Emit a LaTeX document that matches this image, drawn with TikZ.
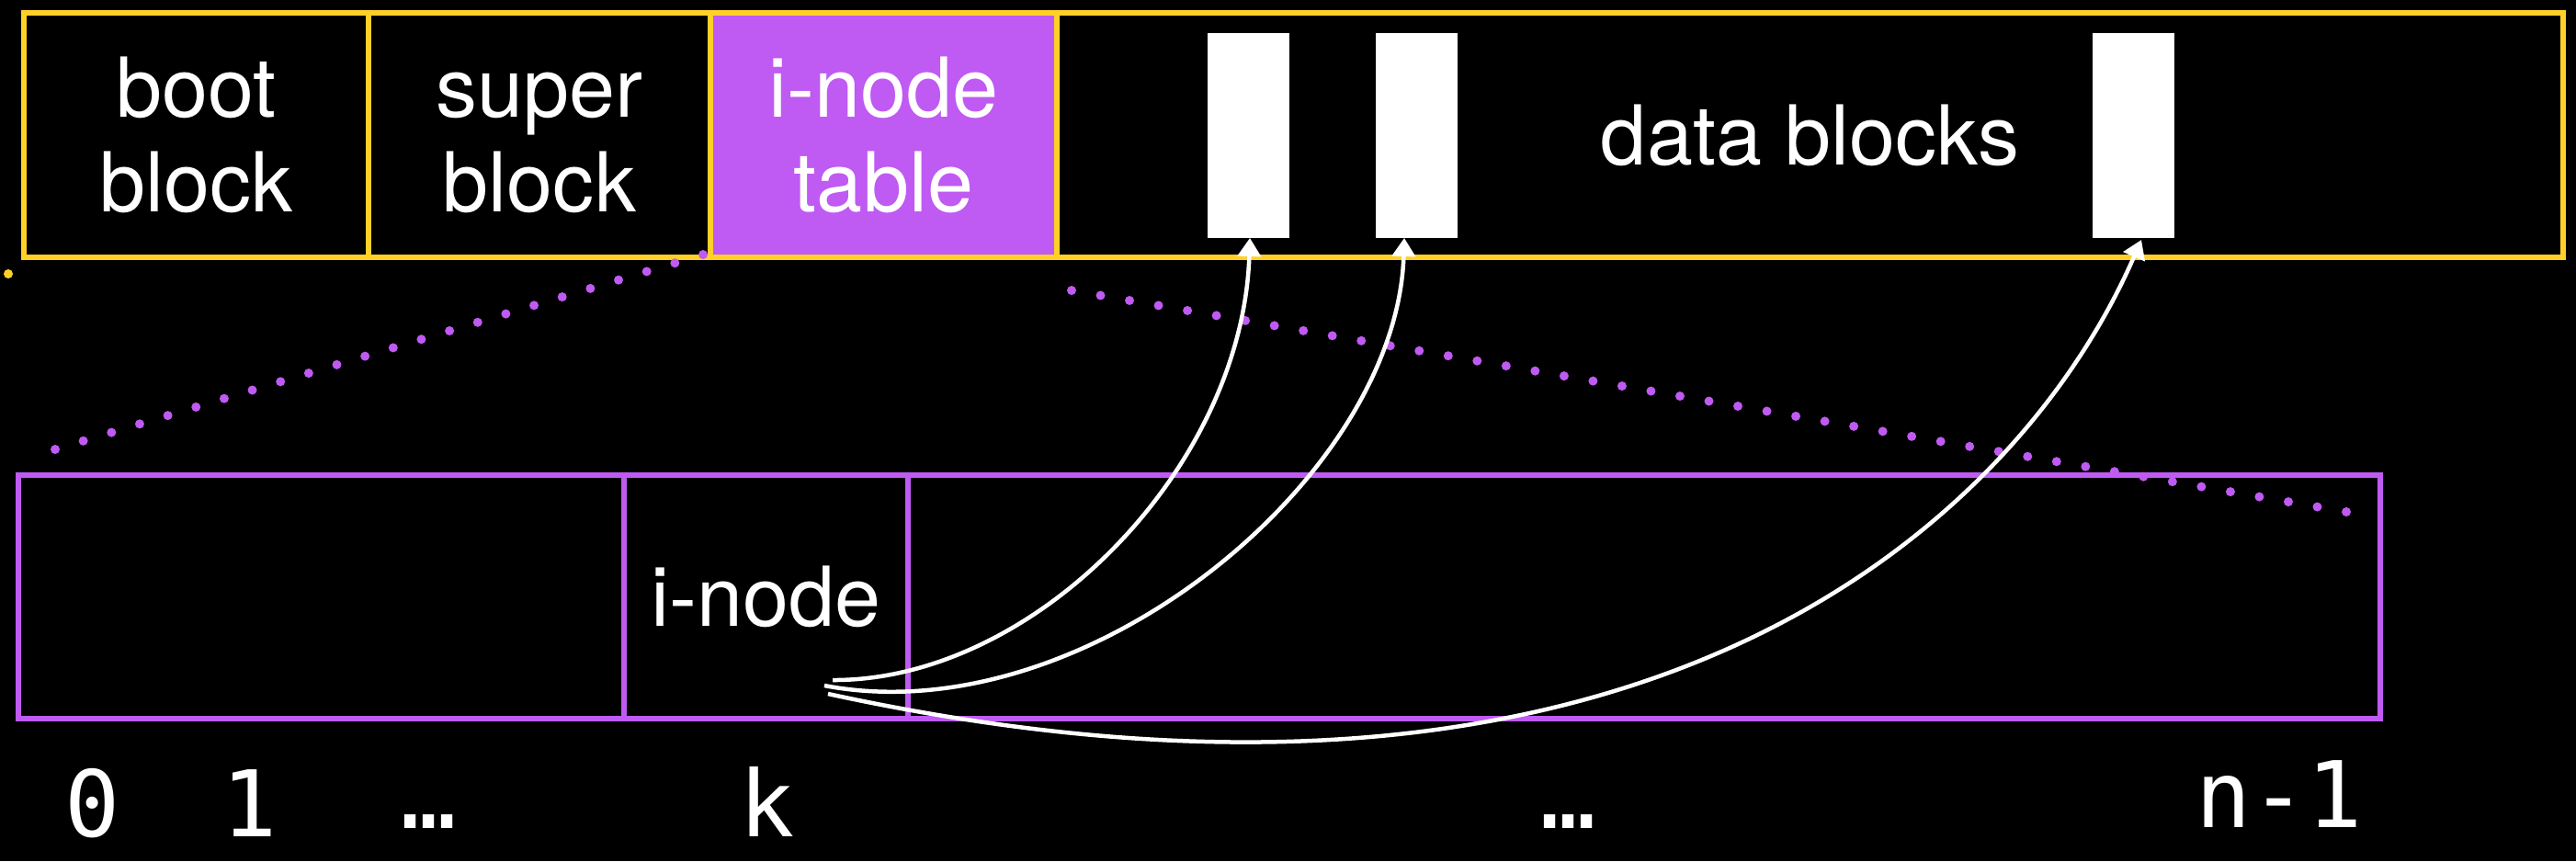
\documentclass[tikz,border=0pt]{standalone}
\usepackage{fontspec}
\setmainfont{TeX Gyre Heros}
\newfontfamily\monofont{DejaVu Sans Mono}
\usetikzlibrary{arrows.meta,calc}
\definecolor{kyellow}{RGB}{255,208,40}
\definecolor{kpurple}{RGB}{191,90,242}
\tikzset{
  topcell/.style={draw=kyellow, line width=0.06cm, minimum height=2.66cm, inner sep=0pt, outer sep=0pt,
    text=white, align=center, font=\fontsize{25.6}{29.31}\selectfont},
  botcell/.style={draw=kpurple, line width=0.06cm, minimum height=2.65cm, inner sep=0pt, outer sep=0pt,
    text=white, font=\fontsize{25.6}{29.31}\selectfont},
  databar/.style={fill=white, inner sep=0pt, outer sep=0pt, minimum width=0.89cm, minimum height=2.23cm},
  idx/.style={text=white, font=\monofont\fontsize{28.45}{34}\selectfont, inner sep=0pt, anchor=base},
  pointer/.style={white, line width=0.045cm, -{Triangle[width=0.25cm,length=0.2cm]}},
  ptdot/.style={fill=kpurple},
}
\begin{document}
\begin{tikzpicture}
\useasboundingbox (0,0) rectangle (28.03,-9.37);
\fill[black] (0,0) rectangle (28.03,-9.37);

% disk layout (top)
\node[topcell, minimum width=3.75cm] (boot) at (2.135,-1.47) {\vphantom{bp}boot\\block};
\node[topcell, minimum width=3.72cm] (super) at (5.87,-1.47) {\vphantom{bp}super\\block};
\node[topcell, minimum width=3.77cm, fill=kpurple] (itable) at (9.615,-1.47) {\vphantom{bp}i-node\\table};
\node[topcell, minimum width=16.39cm] (data) at (19.695,-1.47) {data blocks};

\node[databar] (bar1) at (13.585,-1.475) {};
\node[databar] (bar2) at (15.41,-1.475) {};
\node[databar] (bar3) at (23.215,-1.475) {};

\fill[kyellow] (0.09,-2.98) circle (0.05);

% i-node table (bottom)
\node[botcell, minimum width=6.59cm] (first) at (3.495,-6.495) {};
\node[botcell, minimum width=3.09cm] (inode) at (8.335,-6.495) {i-node};
\node[botcell, minimum width=16.02cm] (rest) at (17.89,-6.495) {};

% dotted zoom lines
\coordinate (l0) at (0.60,-4.89);
\coordinate (l1) at (7.65,-2.77);
\coordinate (r0) at (11.66,-3.16);
\coordinate (r1) at (25.53,-5.57);
\foreach \i in {0,...,23} \fill[ptdot] ($(l0)!\i/23!(l1)$) circle (0.05);
\foreach \i in {0,...,44} \fill[ptdot] ($(r0)!\i/44!(r1)$) circle (0.05);

% pointers
\coordinate (s1) at (9.06,-7.40);
\coordinate (s2) at (8.97,-7.46);
\coordinate (s3) at (9.01,-7.55);
\draw[pointer] (s1) .. controls (11.26,-7.41) and (13.52,-5.09) .. ([xshift=0.015cm]bar1.south);
\draw[pointer] (s2) .. controls (11.80,-8.00) and (15.20,-5.20) .. ([xshift=-0.13cm]bar2.south);
\draw[pointer] (s3) .. controls (18.00,-9.50) and (22.00,-5.60) .. ([xshift=0.085cm,yshift=-0.02cm]bar3.south);

% indices
\node[idx] (i0) at (1.01,-9.10) {0};
\node[idx] (i1) at (2.72,-9.10) {1};
\node[idx] (id1) at (4.67,-9.01) {…};
\node[idx] (ik) at (8.35,-9.10) {k};
\node[idx] (id2) at (17.07,-9.01) {…};
\node[idx] (in) at (24.80,-9.00) {n-1};
\end{tikzpicture}
\end{document}
